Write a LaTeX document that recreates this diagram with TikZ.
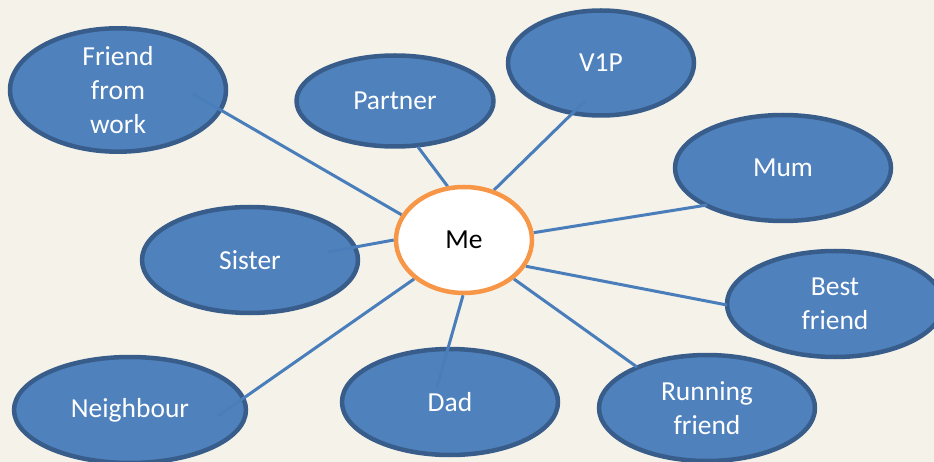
\documentclass[tikz,border=0pt]{standalone}
\usepackage{fontspec}
\setmainfont{Carlito}
\usetikzlibrary{shapes.geometric}
\definecolor{paper}{RGB}{245,242,234}
\definecolor{bubblefill}{RGB}{79,129,189}
\definecolor{bubbleedge}{RGB}{56,93,138}
\definecolor{linkblue}{RGB}{74,126,187}
\definecolor{meorange}{RGB}{247,150,70}
\pgfdeclarelayer{front}
\pgfsetlayers{main,front}
\begin{document}
\begin{tikzpicture}[x=1pt,y=-1pt,line join=round,font=\fontsize{27.5}{34}\selectfont,
	bubble/.style={ellipse,fill=bubblefill,draw=bubbleedge,line width=4.5pt,text=white,align=center,inner sep=0pt,minimum width=216pt,minimum height=106pt},
	link/.style={draw=linkblue,line width=3pt},
	centre/.style={ellipse,fill=white,draw=meorange,line width=4.5pt,inner sep=0pt,minimum width=136pt,minimum height=106pt}]
		\fill[paper] (0,0) rectangle (934,462);
		\useasboundingbox (0,0) rectangle (934,462);
		\begin{pgfonlayer}{front}
		\node[centre] (me) at (464,240) {Me};
		\end{pgfonlayer}
		\node[bubble] (ffw) at (118,90) {Friend\\from\\work};
		\node[bubble,minimum width=197pt,minimum height=91pt] (partner) at (395,101) {Partner};
		\node[bubble,minimum width=186pt,minimum height=105pt] (vip) at (601,63) {V1P};
		\node[bubble] (mum) at (783,168) {Mum};
		\node[bubble] (best) at (835,304) {Best\\friend};
		\node[bubble] (run) at (707,408) {Running\\friend};
		\node[bubble] (dad) at (450,402) {Dad};
		\node[bubble,minimum width=232pt] (nbr) at (130,410) {Neighbour};
		\node[bubble] (sis) at (250,260) {Sister};
		\coordinate (ffw-end) at (193,94);
		\coordinate (partner-end) at (418,147);
		\coordinate (vip-end) at (585,101);
		\coordinate (mum-end) at (707,205);
		\coordinate (best-end) at (727,305);
		\coordinate (run-end) at (637,367);
		\coordinate (dad-end) at (437,387);
		\coordinate (nbr-end) at (218,416);
		\coordinate (sis-end) at (328,252);
		\foreach \e/\a in {ffw/158,partner/107,vip/59,mum/6,best/337,run/322,dad/269,nbr/218,sis/180}
		\draw[link] (\e-end)--(me.\a);
\end{tikzpicture}
\end{document}
